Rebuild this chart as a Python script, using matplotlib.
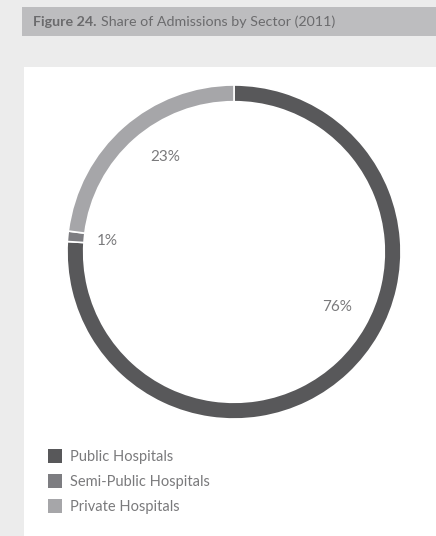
import matplotlib.pyplot as plt
from matplotlib.patches import Rectangle
import numpy as np

plt.rcParams['font.family'] = ['Lato', 'DejaVu Sans']

sectors = ["Public Hospitals", "Semi-Public Hospitals", "Private Hospitals"]
shares = [76, 1, 23]
colors = ["#58585a", "#7d7d81", "#a6a6a9"]
# angular position (degrees, counter-clockwise from +x) and radius of each label
label_angles = [-28, 175, 126]
label_radii = [0.70, 0.76, 0.70]

W, H = 436, 536
fig = plt.figure(figsize=(W / 100, H / 100), dpi=100)
fig.patch.set_facecolor("#ececec")

# header bar and white panel (behind everything else)
fig.add_artist(Rectangle((22 / W, 1 - 36 / H), (W - 22) / W, 29 / H,
                         transform=fig.transFigure, facecolor="#bdbdbf",
                         edgecolor="none", zorder=-2))
fig.add_artist(Rectangle((24 / W, 0), (W - 24) / W, 1 - 67 / H,
                         transform=fig.transFigure, facecolor="white",
                         edgecolor="none", zorder=-2))
t1 = fig.text(33 / W, 1 - 22 / H, "Figure 24.", fontsize=10.3, fontweight="bold",
              color="#6b6b6d", va="center", ha="left")
fig.canvas.draw()
bb = t1.get_window_extent()
fig.text((bb.x1 + 4) / W, 1 - 22 / H, "Share of Admissions by Sector (2011)",
         fontsize=10.3, color="#6b6b6d", va="center", ha="left")

# donut
cx, cy, R = 234, 252, 167
ax = fig.add_axes([(cx - R) / W, 1 - (cy + R) / H, 2 * R / W, 2 * R / H])
ax.patch.set_alpha(0)
ax.pie(shares, colors=colors, startangle=90, counterclock=False, radius=1,
       wedgeprops=dict(width=0.1, edgecolor="white", linewidth=1.2))
ax.set_xlim(-1, 1)
ax.set_ylim(-1, 1)
ax.set_aspect("equal")
ax.axis("off")

for v, a, r in zip(shares, label_angles, label_radii):
    t = np.deg2rad(a)
    ax.text(r * np.cos(t), r * np.sin(t), f"{v}%", ha="center", va="center",
            fontsize=11, color="#7a7a7c")

# legend
for i, (name, c) in enumerate(zip(sectors, colors)):
    y = 456 + i * 25
    fig.add_artist(Rectangle((48 / W, 1 - (y + 7) / H), 14 / W, 14 / H,
                             transform=fig.transFigure, facecolor=c,
                             edgecolor="none"))
    fig.text(70 / W, 1 - (y + 1) / H, name, fontsize=10.5, color="#7a7a7c",
             va="center", ha="left")

fig.savefig("out.png", dpi=100, facecolor=fig.get_facecolor())
